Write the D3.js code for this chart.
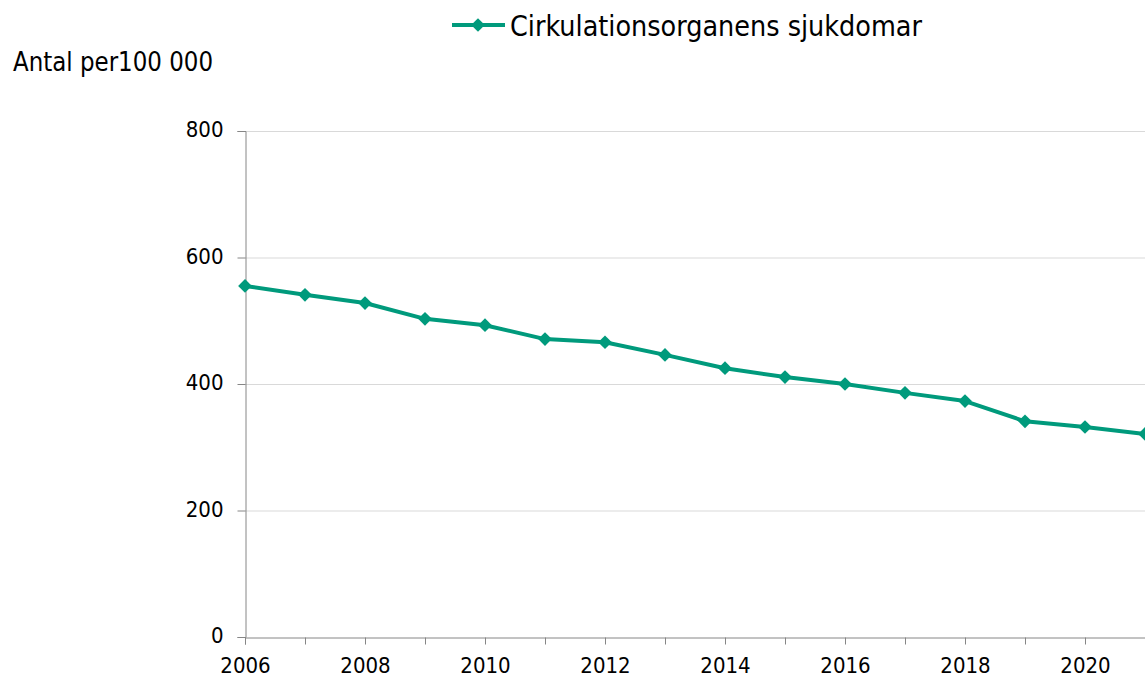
<!DOCTYPE html>
<html><head><meta charset="utf-8">
<script src="https://cdn.jsdelivr.net/npm/d3@7"></script>
<style>body{margin:0;background:#fff}svg{display:block}text{font-family:"DejaVu Sans Condensed","DejaVu Sans",sans-serif;fill:#000}</style>
</head><body>
<svg id="c" width="1145" height="681"></svg>
<script>
const years = [2006,2007,2008,2009,2010,2011,2012,2013,2014,2015,2016,2017,2018,2019,2020,2021];
const values = [555,541,528,503,493,471,466,446,425,411,400,386,373,341,332,321];
const yTicks = [0,200,400,600,800];
const xTickLabels = [2006,2008,2010,2012,2014,2016,2018,2020];
const seriesName = "Cirkulationsorganens sjukdomar";
const yTitle = "Antal per100 000";

const color = "#009a7c";
const font = "DejaVu Sans Condensed";
const svg = d3.select("#c");
const x = d3.scaleLinear().domain([2006,2021]).range([245,1145]);
const y = d3.scaleLinear().domain([0,800]).range([637,131]);

// gridlines
svg.append("g").selectAll("line").data(yTicks.filter(d=>d>0)).join("line")
  .attr("x1",245).attr("x2",1145).attr("y1",d=>y(d)+0.5).attr("y2",d=>y(d)+0.5)
  .attr("stroke","#d9d9d9").attr("stroke-width",1);

// y axis
const ya = svg.append("g").attr("transform","translate(245.5,0)")
  .call(d3.axisLeft(y).tickValues(yTicks).tickSize(8).tickPadding(14).tickFormat(d3.format("d")));
ya.select(".domain").attr("stroke","#868686");
ya.selectAll(".tick line").attr("stroke","#868686");
ya.selectAll("text").style("font-size","22px").style("font-family",font).attr("dy","0.25em");

// x axis
const xa = svg.append("g").attr("transform","translate(0,637.5)")
  .call(d3.axisBottom(x).tickValues(years).tickSize(7).tickPadding(13).tickFormat(d=>xTickLabels.includes(d)?d:""));
xa.select(".domain").attr("stroke","#868686");
xa.selectAll(".tick line").attr("stroke","#868686");
xa.selectAll("text").style("font-size","22px").style("font-family",font);

// line
const line = d3.line().x((d,i)=>x(years[i])).y(d=>y(d));
svg.append("path").datum(values).attr("d",line).attr("fill","none")
  .attr("stroke",color).attr("stroke-width",4).attr("stroke-linejoin","round");
const diamond = d3.symbol().type(d3.symbolDiamond2).size(120);
svg.append("g").selectAll("path").data(values).join("path")
  .attr("transform",(d,i)=>`translate(${x(years[i])},${y(d)})`)
  .attr("d",diamond).attr("fill",color);

// legend
svg.append("line").attr("x1",452).attr("x2",505).attr("y1",25).attr("y2",25)
  .attr("stroke",color).attr("stroke-width",4);
svg.append("path").attr("transform","translate(478,25)").attr("d",diamond).attr("fill",color);
svg.append("text").attr("x",510).attr("y",36).style("font-size","29px")
  .attr("textLength",412).attr("lengthAdjust","spacingAndGlyphs").text(seriesName);

// y title
svg.append("text").attr("x",13).attr("y",71).style("font-size","26px")
  .attr("textLength",200).attr("lengthAdjust","spacingAndGlyphs").text(yTitle);
</script>
</body></html>
